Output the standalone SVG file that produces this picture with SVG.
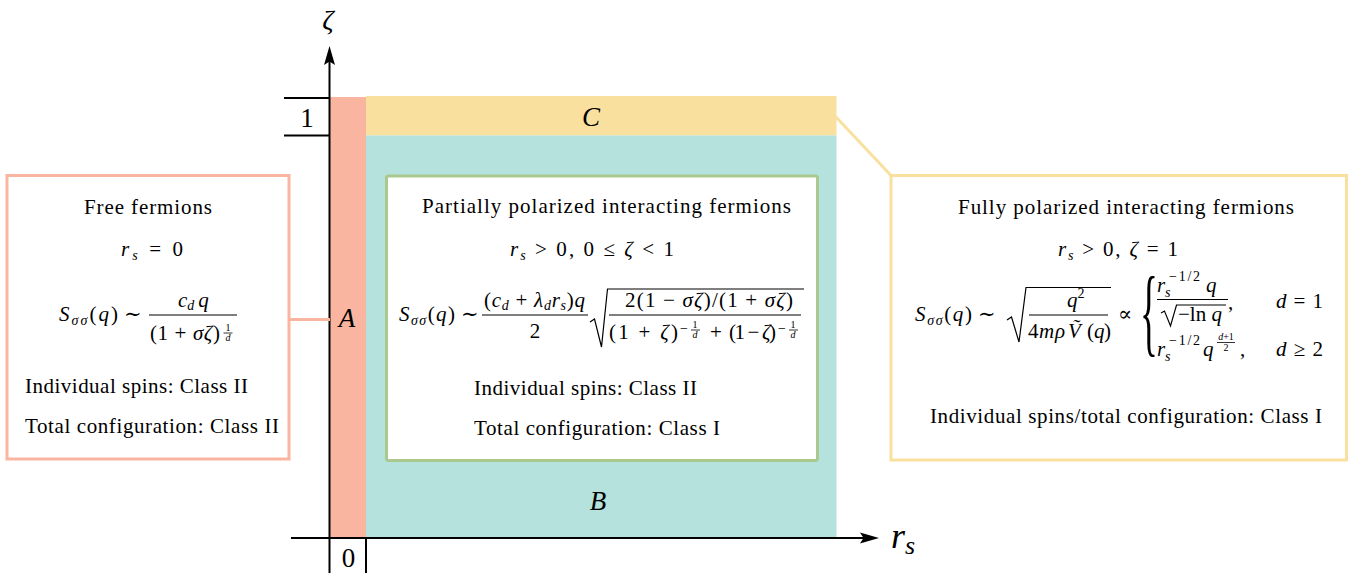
<svg xmlns="http://www.w3.org/2000/svg" width="1367" height="579" viewBox="0 0 1367 579">
<style>
.t{font-family:"Liberation Serif","DejaVu Serif",serif;font-size:21px;fill:#000}
.i{font-style:italic}
.s{font-size:14px}
.ss{font-size:10px}
.big{font-size:27px}
.ax{stroke:#000;stroke-width:2;fill:none}
.fl{stroke:#000;stroke-width:1.1}
.rad{stroke:#000;stroke-width:1.2;fill:none;stroke-linejoin:miter}
</style>
<rect width="1367" height="579" fill="#fff"/>
<g id="regions">
<rect id="region-A" x="330" y="97" width="36" height="441" fill="#F9B5A0"/>
<rect id="region-C" x="366" y="96" width="470.5" height="39.5" fill="#FAE09E"/>
<rect id="region-B" x="366" y="135.5" width="470.5" height="402.5" fill="#B5E2DC"/>
<text class="t i big" x="347" y="327" text-anchor="middle">A</text>
<text class="t i big" x="598" y="510" text-anchor="middle">B</text>
<text class="t i big" x="591" y="126" text-anchor="middle">C</text>
</g>
<g id="axes">
<line class="ax" x1="329.5" y1="573" x2="329.5" y2="60"/>
<path d="M329.5,46 L335,65 L329.5,61.5 L324,65 Z" fill="#000"/>
<line class="ax" x1="291" y1="538" x2="866" y2="538"/>
<path d="M879,538 L860,532.5 L863.5,538 L860,543.5 Z" fill="#000"/>
<line class="ax" x1="284" y1="98" x2="330" y2="98"/>
<line class="ax" x1="284" y1="135.5" x2="330" y2="135.5"/>
<line class="ax" x1="366" y1="538" x2="366" y2="573"/>
<text class="t big" x="307" y="127" text-anchor="middle">1</text>
<text class="t big" x="348.5" y="567" text-anchor="middle">0</text>
<text class="t i" x="328" y="29" text-anchor="middle" style="font-size:28px">ζ</text>
<text class="t i" x="891" y="548" style="font-size:36px">r<tspan dy="6" style="font-size:26px">s</tspan></text>
</g>
<g id="connectors">
<line x1="289" y1="319.5" x2="330" y2="319.5" stroke="#F9B5A0" stroke-width="3"/>
<line x1="836" y1="117" x2="891.5" y2="176" stroke="#FAE09E" stroke-width="3"/>
</g>
<g id="box-free">
<rect x="7" y="175.5" width="282" height="283.5" fill="#fff" stroke="#F9B5A0" stroke-width="3"/>
<text class="t" x="84" y="214" textLength="128">Free fermions</text>
<text class="t" x="121" y="256" textLength="62"><tspan class="i">r</tspan><tspan class="s i" dy="4">s</tspan><tspan dy="-4"> = 0</tspan></text>
<text class="t" x="59" y="321" textLength="59"><tspan class="i">S</tspan><tspan class="s i" dy="4">σσ</tspan><tspan dy="-4">(</tspan><tspan class="i">q</tspan>)</text>
<text class="t" x="124" y="321">∼</text>
<text class="t" x="178" y="307"><tspan class="i">c</tspan><tspan class="s i" dy="3">d</tspan><tspan class="i" dy="-3" dx="4">q</tspan></text>
<line class="fl" x1="149" y1="315" x2="237" y2="315"/>
<text class="t" x="150" y="340" textLength="70">(1 + <tspan class="i">σζ</tspan>)</text>
<text class="t ss" x="228" y="331" text-anchor="middle">1</text>
<line x1="223.5" y1="333" x2="232.5" y2="333" stroke="#000" stroke-width="0.8"/>
<text class="t ss i" x="228" y="340.5" text-anchor="middle">d</text>
<text class="t" x="25" y="393" textLength="223">Individual spins: Class II</text>
<text class="t" x="25" y="433" textLength="254">Total configuration: Class II</text>
</g>
<g id="box-partial">
<rect x="386.5" y="176" width="431" height="284.5" rx="2" fill="#fff" stroke="#A9C98F" stroke-width="3"/>
<text class="t" x="422" y="213" textLength="369">Partially polarized interacting fermions</text>
<text class="t" x="510" y="256" textLength="164"><tspan class="i">r</tspan><tspan class="s i" dy="4">s</tspan><tspan dy="-4"> &gt; 0, 0 ≤ </tspan><tspan class="i">ζ</tspan> &lt; 1</text>
<text class="t" x="399" y="321" textLength="56"><tspan class="i">S</tspan><tspan class="s i" dy="4">σσ</tspan><tspan dy="-4">(</tspan><tspan class="i">q</tspan>)</text>
<text class="t" x="461" y="321">∼</text>
<text class="t" x="484" y="307" textLength="101">(<tspan class="i">c</tspan><tspan class="s i" dy="3">d</tspan><tspan dy="-3"> + </tspan><tspan class="i">λ</tspan><tspan class="s i" dy="3">d</tspan><tspan class="i" dy="-3">r</tspan><tspan class="s i" dy="3">s</tspan><tspan dy="-3">)</tspan><tspan class="i">q</tspan></text>
<line class="fl" x1="482" y1="315" x2="588" y2="315"/>
<text class="t" x="535" y="338" text-anchor="middle">2</text>
<path class="rad" d="M590,322 L594.5,319 L601.5,347 L607.5,289 L804,289"/>
<text class="t" x="625" y="307" textLength="168">2(1 − <tspan class="i">σζ</tspan>)/(1 + <tspan class="i">σζ</tspan>)</text>
<line class="fl" x1="609" y1="315" x2="801" y2="315"/>
<text class="t" x="609" y="339" textLength="69">(1 + <tspan class="i">ζ</tspan>)</text>
<text class="t s" x="680" y="333">−</text>
<text class="t ss" x="695" y="328" text-anchor="middle">1</text>
<line x1="691" y1="330" x2="700" y2="330" stroke="#000" stroke-width="0.8"/>
<text class="t ss i" x="695" y="338" text-anchor="middle">d</text>
<text class="t" x="710" y="339">+</text>
<text class="t" x="729" y="339" textLength="47">(1 − <tspan class="i">ζ</tspan>)</text>
<text class="t s" x="778" y="333">−</text>
<text class="t ss" x="793" y="328" text-anchor="middle">1</text>
<line x1="789" y1="330" x2="798" y2="330" stroke="#000" stroke-width="0.8"/>
<text class="t ss i" x="793" y="338" text-anchor="middle">d</text>
<text class="t" x="474" y="395" textLength="223">Individual spins: Class II</text>
<text class="t" x="474" y="435" textLength="246">Total configuration: Class I</text>
</g>
<g id="box-full">
<rect x="891" y="175.5" width="455.5" height="284.5" fill="#fff" stroke="#FAE09E" stroke-width="3"/>
<text class="t" x="958" y="214" textLength="336">Fully polarized interacting fermions</text>
<text class="t" x="1058" y="256" textLength="120"><tspan class="i">r</tspan><tspan class="s i" dy="4">s</tspan><tspan dy="-4"> &gt; 0, </tspan><tspan class="i">ζ</tspan> = 1</text>
<text class="t" x="915" y="321" textLength="57"><tspan class="i">S</tspan><tspan class="s i" dy="4">σσ</tspan><tspan dy="-4">(</tspan><tspan class="i">q</tspan>)</text>
<text class="t" x="978" y="321">∼</text>
<path class="rad" d="M1007,320 L1011.5,317 L1019,342 L1026,287.5 L1111,287.5"/>
<text class="t" x="1067" y="307"><tspan class="i">q</tspan><tspan class="s" dy="-9">2</tspan></text>
<line class="fl" x1="1029" y1="315" x2="1108" y2="315"/>
<text class="t" y="338"><tspan x="1028">4</tspan><tspan x="1039" class="i">m</tspan><tspan x="1055" class="i">ρ</tspan><tspan x="1068" class="i">Ṽ</tspan><tspan x="1087">(</tspan><tspan x="1094" class="i">q</tspan><tspan x="1104">)</tspan></text>
<text class="t" x="1118" y="321">∝</text>
<text class="t" transform="translate(1140,344) scale(0.38,1)" style="font-size:98px">{</text>
<text class="t i" x="1157" y="292">r</text>
<text class="t s i" x="1165" y="297">s</text>
<text class="t s" x="1169" y="281" textLength="31">−1/2</text>
<text class="t i" x="1206" y="292">q</text>
<line class="fl" x1="1157" y1="299.5" x2="1228" y2="299.5"/>
<path class="rad" d="M1161,313 L1164.5,311 L1170.5,326 L1176.5,305 L1226,305"/>
<text class="t" x="1178" y="321" textLength="44">−ln <tspan class="i">q</tspan></text>
<text class="t" x="1228" y="309">,</text>
<text class="t" x="1276" y="308" textLength="47"><tspan class="i">d</tspan> = 1</text>
<text class="t i" x="1157" y="356">r</text>
<text class="t s i" x="1165" y="361">s</text>
<text class="t s" x="1169" y="345" textLength="31">−1/2</text>
<text class="t i" x="1203" y="356">q</text>
<text class="t ss" x="1226" y="340" text-anchor="middle"><tspan class="i">d</tspan>+1</text>
<line x1="1217" y1="342.5" x2="1235" y2="342.5" stroke="#000" stroke-width="0.8"/>
<text class="t ss" x="1226" y="351" text-anchor="middle">2</text>
<text class="t" x="1240" y="356">,</text>
<text class="t" x="1276" y="356" textLength="47"><tspan class="i">d</tspan> ≥ 2</text>
<text class="t" x="930" y="423" textLength="392">Individual spins/total configuration: Class I</text>
</g>
</svg>
